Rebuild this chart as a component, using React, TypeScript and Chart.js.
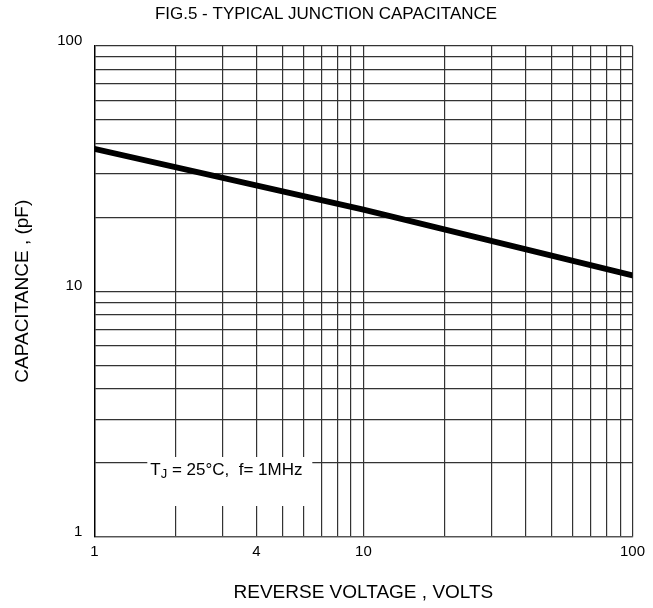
import React, { useEffect, useRef } from 'react';
import { Chart, registerables } from 'chart.js';

Chart.register(...registerables);

// ---- data ----
const voltage = [1, 10, 100];
const capacitance = [38, 21.5, 11.6];
const xGridValues = [1, 2, 3, 4, 5, 6, 7, 8, 9, 10, 20, 30, 40, 50, 60, 70, 80, 90, 100];
const yGridValues = [1, 2, 3, 4, 5, 6, 7, 8, 9, 10, 20, 30, 40, 50, 60, 70, 80, 90, 100];
const xTickLabels = [1, 4, 10, 100];
const yTickLabels = [1, 10, 100];
const titleText = 'FIG.5 - TYPICAL JUNCTION CAPACITANCE';
const xTitleText = 'REVERSE VOLTAGE , VOLTS';
const yTitleText = 'CAPACITANCE , (pF)';
const noteMain = 'T';
const noteSub = 'J';
const noteRest = ' = 25\u00B0C,  f= 1MHz';

const FONT = '"Liberation Sans", Arial, Helvetica, sans-serif';

const titlePlugin = {
  id: 'figTitle',
  afterDraw(chart: any) {
    const ctx = chart.ctx;
    ctx.save();
    ctx.fillStyle = '#000';
    ctx.font = `17px ${FONT}`;
    ctx.textAlign = 'center';
    ctx.textBaseline = 'middle';
    ctx.fillText(titleText, 326, 14);
    ctx.restore();
  },
};

const notePlugin = {
  id: 'noteBox',
  beforeDatasetsDraw(chart: any) {
    const ctx = chart.ctx;
    const { left } = chart.chartArea;
    ctx.save();
    ctx.fillStyle = '#fff';
    ctx.fillRect(left + 53, 457, 165, 49);
    ctx.fillStyle = '#000';
    ctx.textAlign = 'left';
    ctx.textBaseline = 'alphabetic';
    let x = left + 56;
    const base = 475;
    ctx.font = `17px ${FONT}`;
    ctx.fillText(noteMain, x, base);
    x += ctx.measureText(noteMain).width;
    ctx.font = `13px ${FONT}`;
    ctx.fillText(noteSub, x, base + 3);
    x += ctx.measureText(noteSub).width;
    ctx.font = `17px ${FONT}`;
    ctx.fillText(noteRest, x, base);
    ctx.restore();
  },
};

export default function App() {
  const ref = useRef<HTMLCanvasElement | null>(null);

  useEffect(() => {
    if (!ref.current) return;
    const gridColor = '#333';
    const chart = new Chart(ref.current, {
      type: 'line',
      data: {
        datasets: [
          {
            data: voltage.map((v, i) => ({ x: v, y: capacitance[i] })),
            borderColor: '#000',
            borderWidth: 6,
            borderCapStyle: 'round',
            pointRadius: 0,
            fill: false,
            tension: 0,
          },
        ],
      },
      options: {
        responsive: false,
        animation: false,
        devicePixelRatio: 1,
        layout: { padding: { left: 0, right: 20.5, top: 45.7, bottom: 0 } },
        plugins: {
          legend: { display: false },
          title: { display: false },
          tooltip: { enabled: false },
        },
        scales: {
          x: {
            type: 'logarithmic',
            min: 1,
            max: 100,
            afterBuildTicks: (scale: any) => {
              scale.ticks = xGridValues.map((v) => ({ value: v }));
            },
            afterFit: (scale: any) => {
              scale.height = 71.3;
            },
            grid: { color: gridColor, lineWidth: 1.2, drawTicks: false },
            border: { color: '#555', width: 1.2 },
            ticks: {
              autoSkip: false,
              maxRotation: 0,
              padding: 6,
              color: '#000',
              font: { family: FONT, size: 15 },
              callback: (value: any) => (xTickLabels.includes(Number(value)) ? String(value) : ''),
            },
            title: {
              display: true,
              text: xTitleText,
              color: '#000',
              font: { family: FONT, size: 19 },
              padding: { top: 0, bottom: 4 },
            },
          },
          y: {
            type: 'logarithmic',
            min: 1,
            max: 100,
            afterBuildTicks: (scale: any) => {
              scale.ticks = yGridValues.map((v) => ({ value: v }));
            },
            afterFit: (scale: any) => {
              scale.width = 94.3;
            },
            grid: { color: gridColor, lineWidth: 1.2, drawTicks: false },
            border: { color: '#000', width: 1.4 },
            ticks: {
              autoSkip: false,
              padding: 12,
              labelOffset: -5,
              color: '#000',
              font: { family: FONT, size: 15 },
              callback: (value: any) => (yTickLabels.includes(Number(value)) ? String(value) : ''),
            },
            title: {
              display: true,
              text: yTitleText,
              color: '#000',
              font: { family: FONT, size: 19 },
              padding: { top: 11, bottom: 0 },
            },
          },
        },
      },
      plugins: [titlePlugin, notePlugin],
    } as any);
    return () => chart.destroy();
  }, []);

  return (
    <div style={{ position: 'absolute', left: 0, top: 0, width: 653, height: 608, background: '#fff' }}>
      <canvas ref={ref} width={653} height={608} style={{ display: 'block' }} />
    </div>
  );
}
